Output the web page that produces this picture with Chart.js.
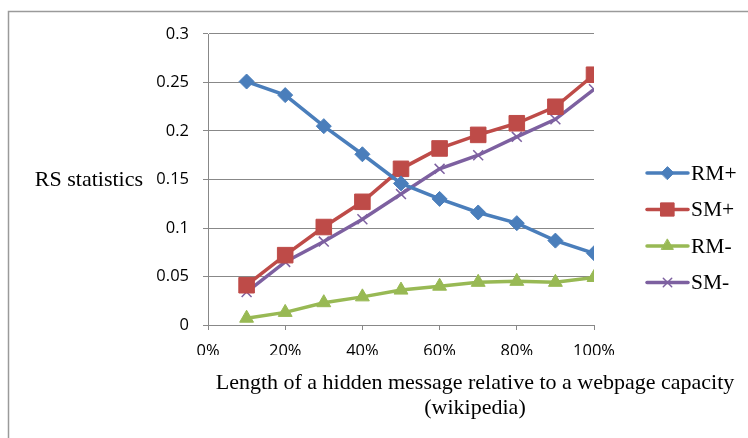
<!DOCTYPE html>
<html>
<head>
<meta charset="utf-8">
<script src="https://cdn.jsdelivr.net/npm/chart.js@4"></script>
<style>
html,body{margin:0;padding:0;background:#fff;}
#wrap{width:748px;height:438px;position:relative;}
</style>
</head>
<body>
<div id="wrap"><canvas id="c" width="748" height="438"></canvas></div>
<script>
const xPositions = [10, 20, 30, 40, 50, 60, 70, 80, 90, 100];
const xTickLabels = ['0%', '20%', '40%', '60%', '80%', '100%'];
const yTickLabels = ['0', '0.05', '0.1', '0.15', '0.2', '0.25', '0.3'];
const seriesNames = ['RM+', 'SM+', 'RM-', 'SM-'];
const rmPlus  = [0.251, 0.237, 0.205, 0.176, 0.146, 0.130, 0.116, 0.105, 0.087, 0.074];
const smPlus  = [0.041, 0.072, 0.101, 0.127, 0.161, 0.182, 0.196, 0.208, 0.225, 0.258];
const rmMinus = [0.007, 0.013, 0.023, 0.029, 0.036, 0.040, 0.044, 0.045, 0.044, 0.049];
const smMinus = [0.034, 0.065, 0.086, 0.109, 0.135, 0.161, 0.175, 0.194, 0.212, 0.243];
const yAxisTitle = 'RS statistics';
const xAxisTitle = ['Length of a hidden message relative to a webpage capacity', '(wikipedia)'];

const colors = ['#4A7EBB', '#BE4B48', '#98B954', '#7D60A0'];
const styles = ['rectRot', 'rect', 'triangle', 'crossRot'];
const radii = [7.5, 11, 8, 7];
const seriesData = [rmPlus, smPlus, rmMinus, smMinus];

const datasets = seriesData.map((vals, i) => ({
  label: seriesNames[i],
  data: vals.map((v, j) => ({x: xPositions[j], y: v})),
  borderColor: colors[i],
  backgroundColor: colors[i],
  pointBackgroundColor: colors[i],
  pointBorderColor: colors[i],
  pointBorderWidth: styles[i] === 'crossRot' ? 1.5 : 1,
  pointStyle: styles[i],
  pointRadius: radii[i],
  pointHoverRadius: radii[i],
  borderWidth: 3.5,
  tension: 0,
  fill: false
}));

const SERIF = '"Liberation Serif", "Times New Roman", serif';
const SANS = '"Open Sans", sans-serif';

const decor = {
  id: 'decor',
  beforeDraw(chart) {
    const ctx = chart.ctx;
    ctx.save();
    ctx.fillStyle = '#fff';
    ctx.fillRect(0, 0, chart.width, chart.height);
    ctx.strokeStyle = '#9a9a9a';
    ctx.lineWidth = 1.5;
    ctx.beginPath();
    ctx.moveTo(8.5, chart.height);
    ctx.lineTo(8.5, 11.5);
    ctx.lineTo(chart.width, 11.5);
    ctx.stroke();
    ctx.restore();
  },
  afterDraw(chart) {
    const ctx = chart.ctx;
    const a = chart.chartArea;
    const ys = chart.scales.y;
    ctx.save();
    ctx.fillStyle = '#000';
    ctx.font = '22px ' + SERIF;
    // y title, horizontal
    ctx.textAlign = 'right';
    ctx.textBaseline = 'middle';
    ctx.fillText(yAxisTitle, a.left - 65, ys.getPixelForValue(0.15) + 1);
    // x title
    ctx.textAlign = 'center';
    ctx.textBaseline = 'middle';
    const cx = a.left + 267;
    ctx.fillText(xAxisTitle[0], cx, a.bottom + 58);
    ctx.fillText(xAxisTitle[1], cx, a.bottom + 83);
    // legend
    chart.data.datasets.forEach((ds, i) => {
      const ly = 173 + i * 36.5;
      const lx0 = a.right + 53, lx1 = a.right + 94;
      ctx.strokeStyle = ds.borderColor;
      ctx.lineWidth = 3.5;
      ctx.lineCap = 'round';
      ctx.beginPath();
      ctx.moveTo(lx0, ly);
      ctx.lineTo(lx1, ly);
      ctx.stroke();
      ctx.fillStyle = ds.backgroundColor;
      ctx.strokeStyle = ds.borderColor;
      ctx.lineWidth = ds.pointBorderWidth;
      Chart.helpers.drawPoint(ctx, {pointStyle: ds.pointStyle, radius: ds.pointRadius * 0.85, rotation: 0, borderWidth: ds.pointBorderWidth}, (lx0 + lx1) / 2, ly);
      ctx.fillStyle = '#000';
      ctx.textAlign = 'left';
      ctx.textBaseline = 'middle';
      ctx.font = '21.5px ' + SERIF;
      ctx.fillText(ds.label, lx1 + 3, ly + 1);
    });
    ctx.restore();
  }
};

new Chart(document.getElementById('c'), {
  type: 'line',
  data: { datasets },
  options: {
    responsive: false,
    animation: false,
    events: [],
    layout: { padding: { left: 148, right: 154, top: 34, bottom: 83 } },
    plugins: { legend: { display: false }, tooltip: { enabled: false } },
    scales: {
      x: {
        type: 'linear',
        min: 0, max: 100,
        afterFit(s) { s.height = 30; },
        afterBuildTicks(s) { s.ticks = xTickLabels.map((_, i) => ({value: i * 20})); },
        ticks: {
          callback: (v, i) => xTickLabels[i],
          font: { family: SANS, size: 16.5 },
          color: '#000',
          padding: 11,
          maxRotation: 0,
          autoSkip: false
        },
        grid: { drawOnChartArea: false, drawTicks: true, tickLength: 5, color: '#888', lineWidth: 1 },
        border: { display: true, color: '#888', width: 1 }
      },
      y: {
        type: 'linear',
        min: 0, max: 0.3,
        afterFit(s) { s.width = 60; },
        afterBuildTicks(s) { s.ticks = yTickLabels.map((_, i) => ({value: i * 0.05})); },
        ticks: {
          callback: (v, i) => yTickLabels[i],
          font: { family: SANS, size: 16.5 },
          color: '#000',
          padding: 14,
          autoSkip: false
        },
        grid: { drawOnChartArea: true, drawTicks: true, tickLength: 5, color: '#888', lineWidth: 1 },
        border: { display: true, color: '#888', width: 1 }
      }
    }
  },
  plugins: [decor]
});
</script>
</body>
</html>
